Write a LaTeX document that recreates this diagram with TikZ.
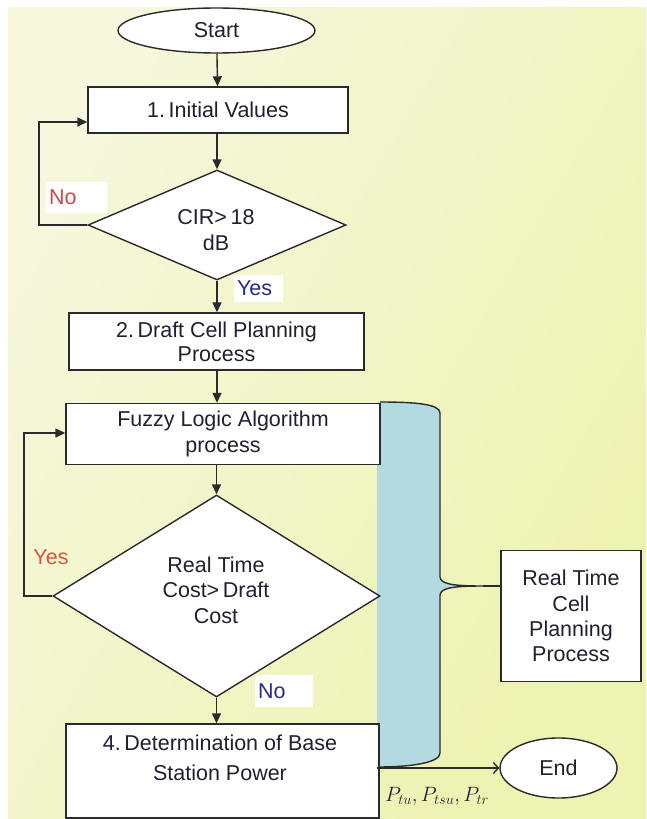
\documentclass[tikz,border=0pt]{standalone}
\usepackage{fontspec}
\setmainfont{Liberation Sans}
\usetikzlibrary{shapes.geometric,arrows.meta}

\definecolor{ink}{HTML}{202030}
\definecolor{edge}{HTML}{2A2A2A}
\definecolor{bracefill}{HTML}{B3DAE0}
\definecolor{noRed}{HTML}{D04848}
\definecolor{yesRed}{HTML}{E0553A}
\definecolor{navy}{HTML}{2A2A8A}
\definecolor{bgL}{HTML}{F6F7DC}
\definecolor{bgR}{HTML}{EDF3B0}

\tikzset{
  every node/.style={font=\fontsize{21.5}{25}\selectfont, text=ink},
  boxnode/.style={draw=edge, line width=1.4pt, fill=white, rectangle, inner sep=0pt},
  termnode/.style={draw=edge, line width=1.4pt, fill=white, ellipse, inner sep=0pt},
  decnode/.style={draw=edge, line width=1.4pt, fill=white, diamond, inner sep=0pt},
  flow/.style={draw=edge, line width=1.4pt, -{Triangle[length=10pt,width=9pt]}},
  plain/.style={draw=edge, line width=1.4pt},
  lblbox/.style={fill=white, inner sep=3pt, align=left},
}

\begin{document}
\begin{tikzpicture}[x=1pt, y=-1pt]
  \useasboundingbox (0,0) rectangle (646,819);
  % page background
  \shade[left color=bgL, right color=bgR, shading angle=60] (8,7) rectangle (646,819);

  % bracket grouping the real-time stage
  \coordinate (tip) at (483,586);
  \fill[bracefill] (377,402) -- (380,402) .. controls (415,402) and (440,404) .. (440,413)
    -- (440,577) .. controls (441,584) and (452,586) .. (tip)
    .. controls (452,586) and (441,588) .. (440,595)
    -- (440,753) .. controls (440,762) and (415,767) .. (377,767) -- cycle;
  \draw[plain] (380,402) .. controls (415,402) and (440,404) .. (440,413)
    -- (440,577) .. controls (441,584) and (452,586) .. (tip)
    .. controls (452,586) and (441,588) .. (440,595)
    -- (440,753) .. controls (440,762) and (415,767) .. (377,767);

  % terminals
  \node[termnode, minimum width=197pt, minimum height=45pt] (start) at (216.5,30.5) {Start};
  \node[termnode, minimum width=117pt, minimum height=60pt] (end) at (558.5,768) {End};

  % process boxes
  \node[boxnode, minimum width=260pt, minimum height=46pt] (init) at (218,110) {1.\,Initial Values};
  \node[boxnode, minimum width=295pt, minimum height=57pt, align=center,
        font=\fontsize{21.5}{24}\selectfont] (draft) at (216.5,341.5)
        {2.\,Draft Cell Planning\\Process};
  \node[boxnode, minimum width=314pt, minimum height=61pt, align=center,
        font=\fontsize{21.5}{26.5}\selectfont] (fuzzy) at (223,434)
        {Fuzzy Logic Algorithm\\process};
  \node[boxnode, minimum width=313pt, minimum height=94pt] (power) at (222.5,771) {};
  \node[align=center, font=\fontsize{21.5}{30}\selectfont] (powert) at (220,758)
        {4.\,Determination of Base\\Station Power};
  \node[boxnode, minimum width=140pt, minimum height=131pt, align=center,
        font=\fontsize{21.5}{25.3}\selectfont] (rt) at (571,616)
        {Real Time\\Cell\\Planning\\Process};

  % decisions
  \node[decnode, minimum width=258pt, minimum height=110pt, aspect=2.35] (cir) at (217,225) {};
  \node[align=center, font=\fontsize{21.5}{26}\selectfont] (cirt) at (216,230) {CIR>\,18\\dB};
  \node[decnode, minimum width=327pt, minimum height=202pt, aspect=1.62] (cost) at (216.5,596) {};
  \node[align=center, font=\fontsize{21.5}{25.5}\selectfont] (costt) at (216,590)
        {Real Time\\Cost>\,Draft\\Cost};

  % main flow
  \draw[flow] (start) -- (init);
  \draw[flow] (init.south -| cir.north) -- (cir.north);
  \draw[flow] (cir.south) -- (cir.south |- draft.north);
  \draw[flow] (draft.south -| cir.south) -- (cir.south |- fuzzy.north);
  \draw[flow] (fuzzy.south -| cost.north) -- (cost.north);
  \draw[flow] (cost.south) -- (cost.south |- power.north);

  % loops back
  \coordinate (l1) at (39,225);
  \draw[flow] (cir.west) -- (l1) -- (l1 |- 0,122) -- (init.west |- 0,122);
  \coordinate (l2) at (24,596);
  \draw[flow] (cost.west) -- (l2) -- (l2 |- 0,433) -- (fuzzy.west |- 0,433);

  % bracket to real-time box, output to end
  \draw[plain] (tip) -- (tip -| rt.west);
  \coordinate (outp) at (377,768);
  \draw[plain, -{Straight Barb[length=5pt,width=11pt]}] (outp) -- (end.west);

  % branch labels
  \node[lblbox, text=noRed, text width=55pt, minimum height=31pt] (no1) at (76.5,197.5) {No};
  \node[lblbox, text=navy, text width=43pt, minimum height=27pt] (yes1) at (258.5,288.5) {Yes};
  \node[text=yesRed] (yes2) at (51,557) {Yes};
  \node[lblbox, text=navy, text width=52pt, minimum height=32pt] (no2) at (284,691) {No};

  % output powers
  \node[font=\fontsize{22}{24}\selectfont, inner sep=0pt] (pw) at (437,796)
        {$P_{tu}, P_{tsu}, P_{tr}$};
\end{tikzpicture}
\end{document}
